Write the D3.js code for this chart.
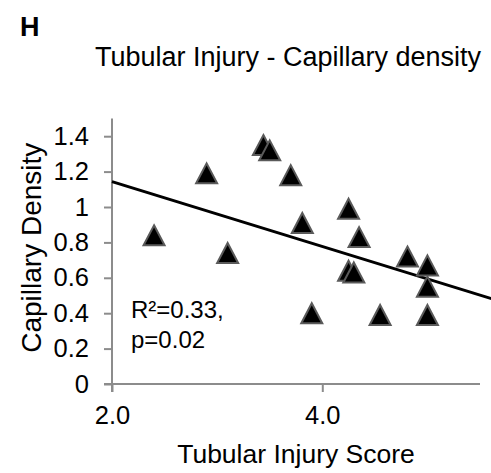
<!DOCTYPE html>
<html>
<head>
<meta charset="utf-8">
<script src="https://cdn.jsdelivr.net/npm/d3@7"></script>
<style>
  html, body { margin: 0; padding: 0; background: #fff; }
  text { font-family: "Liberation Sans", Arial, sans-serif; fill: #000; }
</style>
</head>
<body>
<svg id="chart" width="491" height="473"></svg>
<script>
// Data
const injuryScore = [2.4, 2.9, 3.1, 3.44, 3.5, 3.7, 3.81, 3.9, 4.25, 4.25, 4.3, 4.35, 4.55, 4.81, 5.0, 5.0, 5.0];
const capillaryDensity = [0.84, 1.19, 0.74, 1.35, 1.32, 1.18, 0.91, 0.40, 0.99, 0.64, 0.63, 0.83, 0.39, 0.72, 0.67, 0.55, 0.39];
const trendIntercept = 1.509;
const trendSlope = -0.183;
const trendRange = [2.0, 5.65];
const xTicks = [2.0, 4.0];
const yTicks = [0, 0.2, 0.4, 0.6, 0.8, 1.0, 1.2, 1.4];
const panelLabel = "H";
const title = "Tubular Injury - Capillary density";
const xTitle = "Tubular Injury Score";
const yTitle = "Capillary Density";
const statsLines = ["R²=0.33,", "p=0.02"];

const svg = d3.select("#chart");
const axisColor = "#8c8c8c";

const x = d3.scaleLinear().domain([2, 5.5]).range([112, 480]);
const y = d3.scaleLinear().domain([0, 1.5]).range([384, 118.5]);

// Panel label and title
svg.append("text").attr("x", 20).attr("y", 36)
  .attr("font-size", 27).attr("font-weight", "bold").text(panelLabel);
svg.append("text").attr("x", 288).attr("y", 66)
  .attr("text-anchor", "middle").attr("font-size", 27).text(title);

// Y axis
const yAxis = d3.axisLeft(y).tickValues(yTicks)
  .tickFormat(d => d === 0 ? "0" : (d === 1 ? "1" : d3.format(".1f")(d)))
  .tickSizeOuter(0).tickSize(8).tickPadding(15);
const gy = svg.append("g").attr("transform", `translate(${x(2)},0)`).call(yAxis);
gy.select(".domain").attr("stroke", axisColor).attr("stroke-width", 2)
  .attr("d", `M0,${y(1.5)}V${y(0) + 8}`);
gy.selectAll(".tick line").attr("stroke", axisColor).attr("stroke-width", 2);
gy.selectAll(".tick text").attr("font-size", 25.5).attr("fill", "#000")
  .attr("font-family", "Liberation Sans, Arial, sans-serif");

// X axis
const xAxis = d3.axisBottom(x).tickValues(xTicks).tickFormat(d3.format(".1f"))
  .tickSizeOuter(0).tickSize(8).tickPadding(14);
const gx = svg.append("g").attr("transform", `translate(0,${y(0)})`).call(xAxis);
gx.select(".domain").attr("stroke", axisColor).attr("stroke-width", 2)
  .attr("d", `M${x(2) - 8},0H${x(5.5)}`);
gx.selectAll(".tick line").attr("stroke", axisColor).attr("stroke-width", 2);
gx.selectAll(".tick text").attr("font-size", 25.5).attr("fill", "#000")
  .attr("font-family", "Liberation Sans, Arial, sans-serif");

// Axis titles
svg.append("text").attr("x", 296).attr("y", 463)
  .attr("text-anchor", "middle").attr("font-size", 26.5).text(xTitle);
svg.append("text")
  .attr("transform", `translate(41,${(y(0.77))}) rotate(-90)`)
  .attr("text-anchor", "middle").attr("font-size", 28).text(yTitle);

// Trend line
const line = d3.line().x(d => x(d)).y(d => y(trendIntercept + trendSlope * d));
svg.append("path").datum(trendRange).attr("d", line)
  .attr("stroke", "#000").attr("stroke-width", 3).attr("fill", "none");

// Points (triangles)
const tri = "M0,-10L10.5,10L-10.5,10Z";
svg.append("g").selectAll("path").data(injuryScore.map((v, i) => [v, capillaryDensity[i]]))
  .join("path")
  .attr("d", tri)
  .attr("transform", d => `translate(${x(d[0])},${y(d[1])})`)
  .attr("fill", "#000").attr("stroke", "#5a5a5a").attr("stroke-width", 2)
  .attr("stroke-linejoin", "miter");

// Stats text
svg.append("g").selectAll("text").data(statsLines).join("text")
  .attr("x", 131).attr("y", (d, i) => 318 + i * 30)
  .attr("font-size", 24).text(d => d);
</script>
</body>
</html>
